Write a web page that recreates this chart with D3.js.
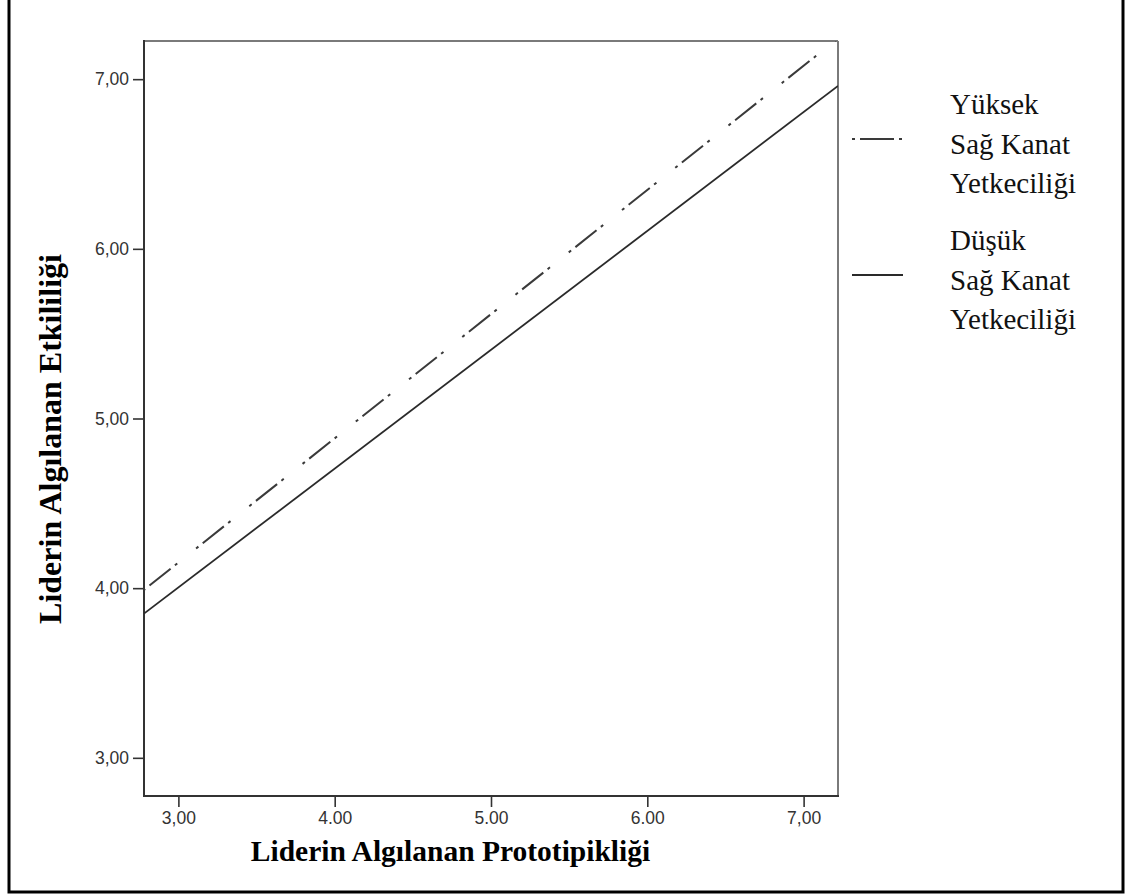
<!DOCTYPE html>
<html>
<head>
<meta charset="utf-8">
<script src="https://cdn.jsdelivr.net/npm/d3@7"></script>
<style>
  body { margin: 0; background: #fff; }
  svg { display: block; }
</style>
</head>
<body>
<div id="chart"></div>
<script>
// values
var xTicks      = [3, 4, 5, 6, 7];
var xTickLabels = ["3,00", "4.00", "5.00", "6.00", "7,00"];
var yTicks      = [3, 4, 5, 6, 7];
var yTickLabels = ["3,00", "4,00", "5,00", "6,00", "7,00"];

var xEnds     = [2.78, 7.22];   // fit lines run edge to edge
var highLine  = [3.99, 7.24];   // Yüksek Sağ Kanat Yetkeciliği
var lowLine   = [3.85, 6.96];   // Düşük Sağ Kanat Yetkeciliği

var legendItems = [
  { lines: ["Yüksek", "Sağ Kanat", "Yetkeciliği"], dash: "3,5,34,5,3" },
  { lines: ["Düşük", "Sağ Kanat", "Yetkeciliği"], dash: null }
];

var xTitle = "Liderin Algılanan Prototipikliği";
var yTitle = "Liderin Algılanan Etkililiği";

var W = 1132, H = 895;
var plot = { left: 144, right: 838, top: 41, bottom: 796 };

var svg = d3.select("#chart").append("svg")
  .attr("width", W)
  .attr("height", H);

// outer frame (top edge cut off like the scan)
svg.append("rect")
  .attr("x", 9).attr("y", -5)
  .attr("width", 1123 - 9).attr("height", 892 + 5)
  .attr("fill", "#fff")
  .attr("stroke", "#000")
  .attr("stroke-width", 3);

var x = d3.scaleLinear().domain([2.78, 7.22]).range([plot.left, plot.right]);
var y = d3.scaleLinear().domain([2.775, 7.225]).range([plot.bottom, plot.top]);

svg.append("clipPath").attr("id", "plotClip")
  .append("rect")
  .attr("x", plot.left).attr("y", plot.top)
  .attr("width", plot.right - plot.left)
  .attr("height", plot.bottom - plot.top);

// plot box: top/right lighter, axes darker
svg.append("line")
  .attr("x1", plot.left).attr("x2", plot.right)
  .attr("y1", plot.top).attr("y2", plot.top)
  .attr("stroke", "#7a7a7a").attr("stroke-width", 2);
svg.append("line")
  .attr("x1", plot.right).attr("x2", plot.right)
  .attr("y1", plot.top).attr("y2", plot.bottom)
  .attr("stroke", "#7a7a7a").attr("stroke-width", 2);

var xAxis = d3.axisBottom(x)
  .tickValues(xTicks)
  .tickSize(11)
  .tickPadding(5)
  .tickFormat(function(d, i) { return xTickLabels[i]; });

var yAxis = d3.axisLeft(y)
  .tickValues(yTicks)
  .tickSize(11)
  .tickPadding(4)
  .tickFormat(function(d, i) { return yTickLabels[i]; });

var gx = svg.append("g")
  .attr("transform", "translate(0," + plot.bottom + ")")
  .call(xAxis);

var gy = svg.append("g")
  .attr("transform", "translate(" + plot.left + ",0)")
  .call(yAxis);

[gx, gy].forEach(function(g) {
  g.select(".domain").remove();
  g.selectAll(".tick line").attr("stroke", "#333").attr("stroke-width", 1.6);
  g.selectAll(".tick text")
    .attr("fill", "#333")
    .style("font-family", "'Liberation Sans', Arial, sans-serif")
    .style("font-size", "17.5px");
});

svg.append("line")
  .attr("x1", plot.left).attr("x2", plot.left)
  .attr("y1", plot.top - 1).attr("y2", plot.bottom + 1)
  .attr("stroke", "#333").attr("stroke-width", 2);
svg.append("line")
  .attr("x1", plot.left).attr("x2", plot.right + 1)
  .attr("y1", plot.bottom).attr("y2", plot.bottom)
  .attr("stroke", "#333").attr("stroke-width", 2);

// fit lines
var line = d3.line()
  .x(function(d) { return x(d[0]); })
  .y(function(d) { return y(d[1]); });

var lines = svg.append("g").attr("clip-path", "url(#plotClip)");

lines.append("path")
  .datum(d3.zip(xEnds, lowLine))
  .attr("d", line)
  .attr("fill", "none")
  .attr("stroke", "#2a2a2a")
  .attr("stroke-width", 1.8);

lines.append("path")
  .datum(d3.zip(xEnds, highLine))
  .attr("d", line)
  .attr("fill", "none")
  .attr("stroke", "#3a3a3a")
  .attr("stroke-width", 2)
  .attr("stroke-dasharray", "27,5.5,3,24,3,5.5")
  .attr("stroke-dashoffset", 61);

// axis titles
svg.append("text")
  .attr("x", 450.5)
  .attr("y", 861)
  .attr("text-anchor", "middle")
  .style("font-family", "'Liberation Serif', 'Times New Roman', serif")
  .style("font-weight", "bold")
  .style("font-size", "29.5px")
  .attr("fill", "#000")
  .text(xTitle);

svg.append("text")
  .attr("transform", "translate(61,439) rotate(-90)")
  .attr("text-anchor", "middle")
  .style("font-family", "'Liberation Serif', 'Times New Roman', serif")
  .style("font-weight", "bold")
  .style("font-size", "32px")
  .attr("fill", "#000")
  .text(yTitle);

// legend
var legend = svg.selectAll(".legend")
  .data(legendItems)
  .enter().append("g")
  .attr("class", "legend")
  .attr("transform", function(d, i) { return "translate(0," + (i * 136) + ")"; });

legend.append("line")
  .attr("x1", 852).attr("x2", 903)
  .attr("y1", 139).attr("y2", 139)
  .attr("stroke", function(d) { return d.dash ? "#3a3a3a" : "#2a2a2a"; })
  .attr("stroke-width", function(d) { return d.dash ? 2.2 : 1.8; })
  .attr("stroke-dasharray", function(d) { return d.dash; });

legend.selectAll("text")
  .data(function(d) { return d.lines; })
  .enter().append("text")
  .attr("x", 950)
  .attr("y", function(d, i) { return 114 + i * 39.5; })
  .style("font-family", "'Liberation Serif', 'Times New Roman', serif")
  .style("font-size", "29px")
  .attr("fill", "#111")
  .text(function(d) { return d; });
</script>
</body>
</html>
